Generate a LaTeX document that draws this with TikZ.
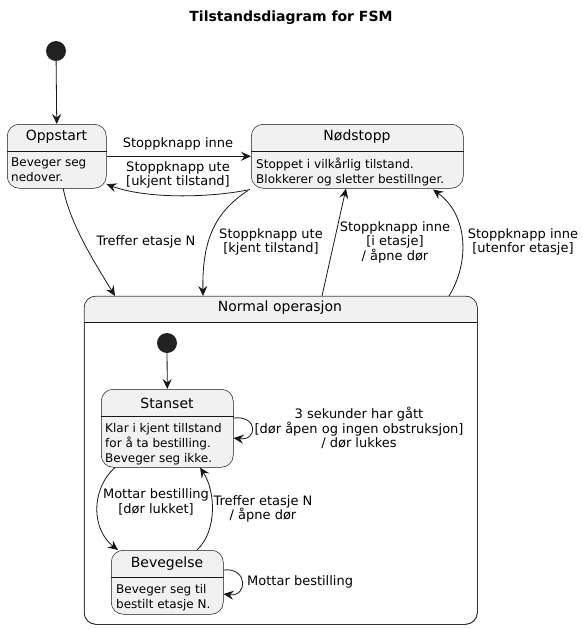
\documentclass[tikz,border=0pt]{standalone}
\usepackage{fontspec}
\setmainfont{DejaVu Sans}
\usetikzlibrary{arrows.meta,calc}
\definecolor{boxfill}{HTML}{F1F1F1}
\definecolor{linecol}{HTML}{181818}
\definecolor{dotcol}{HTML}{222222}

\begin{document}
\begin{tikzpicture}[x=1pt, y=-1pt,
    state/.style={draw=linecol, fill=boxfill, rounded corners=12pt, line width=0.5pt, inner sep=0pt, anchor=north west},
    sepline/.style={draw=linecol, line width=0.5pt},
    statename/.style={font=\fontsize{14}{16}\selectfont, inner sep=0pt},
    desc/.style={font=\fontsize{12}{15}\selectfont, align=left, inner sep=0pt, anchor=north west},
    lbl/.style={font=\fontsize{13}{14.5}\selectfont, align=center, inner sep=0pt},
    arr/.style={draw=linecol, line width=0.8pt, -{Stealth[length=10pt, width=9pt, inset=3.5pt]}},
    startdot/.style={circle, fill=dotcol, minimum size=20pt, inner sep=0pt}]
    \useasboundingbox (0,0) rectangle (583,629);
    \node[font=\bfseries\fontsize{14}{16}\selectfont] (title) at (291,18) {Tilstandsdiagram for FSM};

    % top level states
    \node[startdot] (start) at (56,51) {};
    \node[state, minimum width=99pt, minimum height=64pt] (oppstart) at (7,124) {};
    \node[state, minimum width=212pt, minimum height=64pt] (nodstopp) at (251,124) {};
    \node[state, minimum width=393pt, minimum height=328pt, fill=white] (normal) at (84,296) {};
    \fill[boxfill, rounded corners=12pt] ($(normal.north west)+(0.3,0.3)$) -- ($(normal.north east)+(-0.3,0.3)$)
        [sharp corners] -- ($(normal.north east)+(-0.3,26)$) -- ($(normal.north west)+(0.3,26)$) [rounded corners=12pt] -- cycle;
    \draw[state, fill=none] (normal.north west) rectangle (normal.south east);
    \draw[sepline] (oppstart.west |- 0,151) -- (oppstart.east |- 0,151);
    \draw[sepline] (nodstopp.west |- 0,151) -- (nodstopp.east |- 0,151);
    \draw[sepline] (normal.west |- 0,322) -- (normal.east |- 0,322);

    \node[statename] (oppstart-name) at (56.5,137) {Oppstart};
    \node[desc] (oppstart-desc) at (11,158) {Beveger seg\\nedover.};
    \node[statename] (nodstopp-name) at (357,137) {Nødstopp};
    \node[desc] (nodstopp-desc) at (256,158) {Stoppet i vilkårlig tilstand.\\Blokkerer og sletter bestillnger.};
    \node[statename] (normal-name) at (280,308) {Normal operasjon};

    % inside Normal operasjon
    \node[startdot] (start2) at (167,343) {};
    \node[state, minimum width=132pt, minimum height=78pt] (stanset) at (101,389) {};
    \node[state, minimum width=112pt, minimum height=64pt] (bevegelse) at (111,550) {};
    \draw[sepline] (stanset.west |- 0,416) -- (stanset.east |- 0,416);
    \draw[sepline] (bevegelse.west |- 0,577) -- (bevegelse.east |- 0,577);
    \node[statename] (stanset-name) at (167,403) {Stanset};
    \node[desc] (stanset-desc) at (105,423) {Klar i kjent tillstand\\for å ta bestilling.\\Beveger seg ikke.};
    \node[statename] (bevegelse-name) at (167,564) {Bevegelse};
    \node[desc] (bevegelse-desc) at (116,584) {Beveger seg til\\bestilt etasje N.};

    % transitions
    \draw[arr] (start) -- (oppstart.north);
    \draw[arr] (oppstart.east) -- (nodstopp.west);
    \draw[arr] ($(nodstopp.south west)+(-1,1)$) .. controls (215,197) and (150,200) .. ($(oppstart.east)+(0,28)$);
    \draw[arr] ($(oppstart.south)+(6.5,0)$) .. controls (70,225) and (98,268) .. ($(normal.north west)+(31,0)$);
    \draw[arr] ($(nodstopp.south west)+(-3,2)$) .. controls (215,212) and (202,240) .. ($(normal.north west)+(119,0)$);
    \draw[arr] ($(normal.north west)+(238,0)$) -- ($(nodstopp.south west)+(95,0)$);
    \draw[arr] ($(normal.north west)+(365,0)$) .. controls (470,262) and (468,215) .. ($(nodstopp.south west)+(182,1)$);
    \draw[arr] (start2) -- (stanset.north);
    \draw[arr] ($(stanset.north east)+(0,29)$) .. controls (258,415) and (258,441) .. ($(stanset.north east)+(0,49)$);
    \draw[arr] ($(stanset.south west)+(14,0)$) .. controls (90,490) and (92,530) .. ($(bevegelse.north west)+(7,0)$);
    \draw[arr] ($(bevegelse.north west)+(86,0)$) .. controls (218,530) and (215,490) .. ($(stanset.south west)+(99,0)$);
    \draw[arr] ($(bevegelse.north east)+(0,20)$) .. controls (248,567) and (248,597) .. ($(bevegelse.north east)+(0,44)$);

    % transition labels
    \node[lbl] (inne-lbl) at (178,144) {Stoppknapp inne};
    \node[lbl] (ukjent-lbl) at (178,175) {Stoppknapp ute\\ {[ukjent tilstand]}};
    \node[lbl] (treffer-lbl) at (146,242) {Treffer etasje N};
    \node[lbl] (kjent-lbl) at (271,242) {Stoppknapp ute\\ {[kjent tilstand]}};
    \node[lbl] (ietasje-lbl) at (395,242) {Stoppknapp inne\\ {[i etasje]}\\/ åpne dør};
    \node[lbl] (utenfor-lbl) at (523,242) {Stoppknapp inne\\ {[utenfor etasje]}};
    \node[lbl] (sekunder-lbl) at (359,428) {3 sekunder har gått\\ {[dør åpen og ingen obstruksjon]}\\/ dør lukkes};
    \node[lbl] (mottar-lbl) at (156,502) {Mottar bestilling\\ {[dør lukket]}};
    \node[lbl] (etasjeN-lbl) at (263,509) {Treffer etasje N\\/ åpne dør};
    \node[lbl, anchor=west] (mottar2-lbl) at (247,582) {Mottar bestilling};
\end{tikzpicture}
\end{document}
